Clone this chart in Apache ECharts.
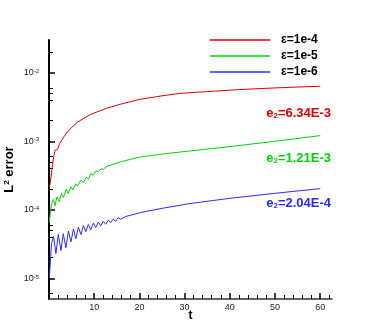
<!DOCTYPE html>
<html>
<head>
<meta charset="utf-8">
<script src="https://cdn.jsdelivr.net/npm/echarts@6/dist/echarts.min.js"></script>
<style>
html, body { margin: 0; padding: 0; background: #fff; }
#chart { width: 378px; height: 336px; }
</style>
</head>
<body>
<div id="chart"></div>
<script>
const seriesNames = ['ε=1e-4', 'ε=1e-5', 'ε=1e-6']
const colors = ['#e00000', '#00d400', '#2a2aff']
const finalErrors = ['6.34E-3', '1.21E-3', '2.04E-4']

const tRed = [0.08, 0.42, 0.77, 1.15, 1.35, 1.53, 1.88, 2.3, 2.63, 3.36, 4.1, 4.85, 6.3, 9.1, 12.8, 16, 20.2, 25, 29, 35, 40, 45, 50, 55, 60]
const vRed = [2.1e-4, 2.9e-4, 4.6e-4, 6.5e-4, 7.4e-4, 7.2e-4, 7.6e-4, 9.0e-4, 1.0e-3, 1.18e-3, 1.37e-3, 1.55e-3, 1.9e-3, 2.45e-3, 3.04e-3, 3.5e-3, 4.1e-3, 4.6e-3, 5.0e-3, 5.3e-3, 5.57e-3, 5.8e-3, 6.0e-3, 6.18e-3, 6.34e-3]

const tGreen = [0.05, 0.27, 0.55, 1.0, 1.3, 1.75, 2.26, 2.77, 3.2, 3.8, 4.25, 4.85, 5.3, 5.95, 6.3, 7.05, 7.6, 8.2, 8.7, 9.3, 9.8, 10.4, 10.9, 11.5, 12.0, 12.8, 16, 20.2, 25, 31, 40, 50, 60]
const vGreen = [6.5e-5, 8.7e-5, 1.21e-4, 1.43e-4, 1.14e-4, 1.54e-4, 1.32e-4, 1.72e-4, 1.51e-4, 2.0e-4, 1.72e-4, 2.16e-4, 1.95e-4, 2.4e-4, 2.23e-4, 2.7e-4, 2.5e-4, 3.0e-4, 2.8e-4, 3.4e-4, 3.2e-4, 3.7e-4, 3.6e-4, 3.95e-4, 3.9e-4, 4.3e-4, 5.05e-4, 5.9e-4, 6.5e-4, 7.2e-4, 8.35e-4, 1.0e-3, 1.21e-3]

const tBlue = [0.05, 0.3, 0.55, 1.0, 1.53, 2.05, 2.65, 3.15, 3.75, 4.3, 4.85, 5.4, 5.95, 6.5, 7.05, 7.6, 8.15, 8.7, 9.25, 9.8, 10.35, 10.9, 11.45, 12.0, 12.55, 13.1, 13.65, 14.2, 14.75, 15.3, 15.85, 17, 20.2, 25, 31, 40, 50, 60]
const vBlue = [1.0e-5, 1.7e-5, 3.2e-5, 4.1e-5, 2.3e-5, 4.4e-5, 2.55e-5, 4.5e-5, 2.8e-5, 4.9e-5, 3.4e-5, 5.25e-5, 3.8e-5, 5.6e-5, 4.35e-5, 5.9e-5, 4.8e-5, 6.1e-5, 5.1e-5, 6.4e-5, 5.5e-5, 6.6e-5, 5.85e-5, 6.8e-5, 6.16e-5, 7.04e-5, 6.5e-5, 7.3e-5, 6.8e-5, 7.65e-5, 7.3e-5, 8.0e-5, 9.1e-5, 1.05e-4, 1.23e-4, 1.47e-4, 1.74e-4, 2.04e-4]

const xMajorTicks = [10, 20, 30, 40, 50, 60]
const xMinorTicks = [2, 4, 6, 8, 12, 14, 16, 18, 22, 24, 26, 28, 32, 34, 36, 38, 42, 44, 46, 48, 52, 54, 56, 58, 62]
const yMajorTicks = [1e-5, 1e-4, 1e-3, 1e-2]
const yMinorTicks = [6e-6, 2e-5, 4e-5, 5e-5, 6e-5, 2e-4, 4e-4, 5e-4, 6e-4, 2e-3, 4e-3, 5e-3, 6e-3, 2e-2]

const pair = (ts, vs) => ts.map((t, i) => [t, vs[i]])
const font = 'Liberation Sans, Arial, sans-serif'

const myChart = echarts.init(document.getElementById('chart'))

const gridBox = { left: 49, right: 46, top: 40, bottom: 37, outerBoundsMode: 'none' }

// axes of the second (same size) grid only carry the short minor ticks
const minorAxis = {
  gridIndex: 1,
  axisLine: { show: true, lineStyle: { opacity: 0 } },
  axisLabel: { show: false },
  splitLine: { show: false }
}

myChart.setOption({
  animation: false,
  color: colors,
  grid: [gridBox, Object.assign({}, gridBox)],
  legend: {
    orient: 'vertical',
    left: 210,
    top: 32,
    padding: 0,
    itemGap: 0,
    itemWidth: 60,
    itemHeight: 1.5,
    icon: 'rect',
    data: seriesNames,
    textStyle: {
      fontFamily: font,
      fontSize: 12,
      fontWeight: 'bold',
      color: '#000',
      lineHeight: 16,
      padding: [0, 0, 0, 6]
    }
  },
  xAxis: [
    {
      type: 'value',
      min: 0,
      max: 62.6,
      interval: 10,
      name: 't',
      nameLocation: 'middle',
      nameGap: 11,
      nameMoveOverlap: false,
      nameTextStyle: { fontFamily: font, fontSize: 12, fontWeight: 'bold', color: '#000' },
      axisLine: { lineStyle: { color: '#333', width: 1.5 } },
      axisTick: { inside: true, length: 6, customValues: xMajorTicks, lineStyle: { color: '#000', width: 1.5 } },
      axisLabel: { customValues: xMajorTicks, margin: 4, fontFamily: font, fontSize: 9, color: '#222' },
      splitLine: { show: false }
    },
    Object.assign({
      type: 'value',
      min: 0,
      max: 62.6,
      position: 'bottom',
      axisTick: { show: true, inside: true, length: 4, customValues: xMinorTicks, lineStyle: { color: '#000', width: 1 } }
    }, minorAxis)
  ],
  yAxis: [
    {
      type: 'log',
      logBase: 10,
      min: 5e-6,
      max: 3e-2,
      name: '{a|L}{s|2}{a| error}',
      nameLocation: 'middle',
      nameRotate: 90,
      nameGap: 33,
      nameMoveOverlap: false,
      nameTextStyle: {
        rich: {
          a: { fontFamily: font, fontSize: 13, fontWeight: 'bold', color: '#000' },
          s: { fontFamily: font, fontSize: 8, fontWeight: 'bold', color: '#000', verticalAlign: 'top' }
        }
      },
      axisLine: { lineStyle: { color: '#000', width: 2 } },
      axisTick: { inside: true, length: 6, customValues: yMajorTicks, lineStyle: { color: '#000', width: 1.5 } },
      axisLabel: {
        customValues: yMajorTicks,
        margin: 10,
        formatter: value => '{b|10}{s|' + Math.round(Math.log10(value)) + '}',
        rich: {
          b: { fontFamily: font, fontSize: 9, color: '#222' },
          s: { fontFamily: font, fontSize: 6, color: '#222', verticalAlign: 'top' }
        }
      },
      splitLine: { show: false }
    },
    Object.assign({
      type: 'log',
      logBase: 10,
      min: 5e-6,
      max: 3e-2,
      position: 'left',
      axisTick: { show: true, inside: true, length: 4, customValues: yMinorTicks, lineStyle: { color: '#000', width: 1 } }
    }, minorAxis)
  ],
  series: [
    { name: seriesNames[0], type: 'line', symbol: 'none', lineStyle: { width: 1 }, data: pair(tRed, vRed) },
    { name: seriesNames[1], type: 'line', symbol: 'none', lineStyle: { width: 1 }, data: pair(tGreen, vGreen) },
    { name: seriesNames[2], type: 'line', symbol: 'none', lineStyle: { width: 1 }, data: pair(tBlue, vBlue) }
  ],
  graphic: [107, 152, 197].map((top, i) => ({
    type: 'text',
    right: 47,
    top: top,
    style: {
      text: '{e|e}{s|2}{e|=' + finalErrors[i] + '}',
      rich: {
        e: { fontFamily: font, fontSize: 13, fontWeight: 'bold', fill: colors[i] },
        s: { fontFamily: font, fontSize: 8, fontWeight: 'bold', fill: colors[i], verticalAlign: 'bottom', padding: [5, 0, 0, 0] }
      }
    }
  }))
})

window.addEventListener('resize', () => {
  myChart.resize()
})
</script>
</body>
</html>
